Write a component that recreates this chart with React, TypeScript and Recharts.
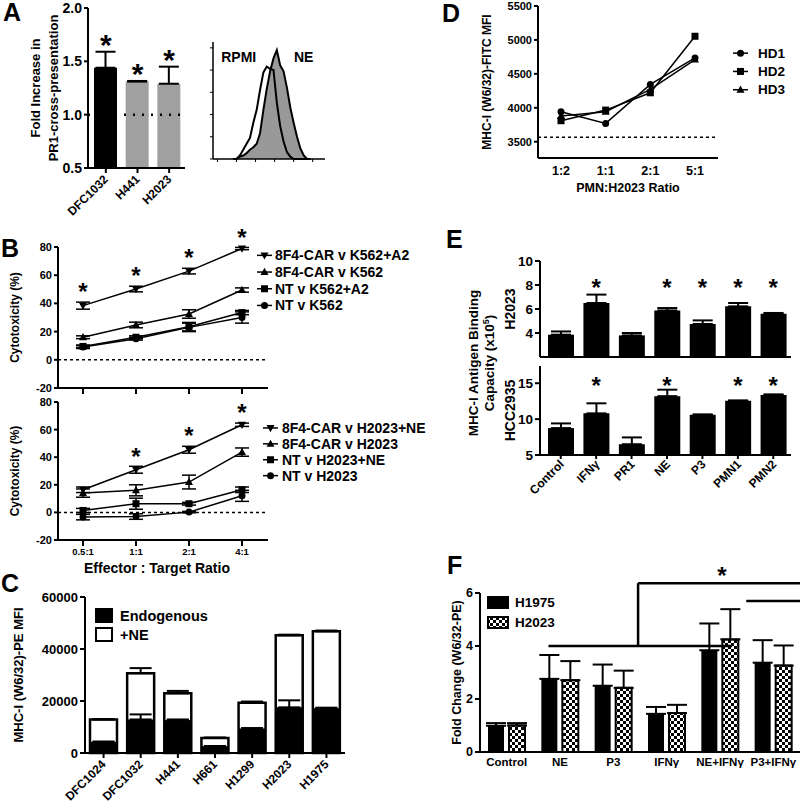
import {
  BarChart, Bar, Cell, LineChart, Line, AreaChart, Area,
  XAxis, YAxis, ErrorBar, ReferenceLine, ReferenceDot,
} from 'recharts'

const FONT = '"Liberation Sans", Arial, Helvetica, sans-serif'

// ---- A: PR1 cross-presentation
const aCells = ['DFC1032', 'H441', 'H2023']
const aFold = [1.44, 1.31, 1.29]
const aFoldErr = [0.15, 0.006, 0.16]

// ---- A: flow histogram (% of mode)
const histBins = [18, 21, 24, 27, 30, 33, 36, 39, 42, 45, 48, 51, 54, 57, 60, 63, 66, 69, 72, 75, 78, 81, 84, 87]
const histRPMI = [0, 0, 3, 8, 13, 18, 31, 42, 59, 74, 79, 77, 76, 48, 28, 15, 6, 2, 0, 0, 0, 0, 0, 0]
const histNE = [0, 0, 2, 3, 5, 8, 10, 13, 22, 42, 60, 75, 86, 93, 80, 75, 61, 44, 31, 19, 9, 3, 0, 0]

// ---- B: cytotoxicity
const ratiosB = ['0.5:1', '1:1', '2:1', '4:1']
const k562CarA2 = [38.4, 50.2, 62.9, 78.9]
const k562CarA2Err = [2.5, 2, 2, 0.8]
const k562Car = [16, 24.7, 32.5, 49.5]
const k562CarErr = [1, 2, 3, 1.5]
const k562NtA2 = [9.5, 16, 23.5, 33.5]
const k562NtA2Err = [1, 1, 3, 1.5]
const k562Nt = [9, 15, 23, 30]
const k562NtErr = [1, 1, 3, 4]
const h2023CarNE = [16.4, 30.9, 45.4, 63.5]
const h2023CarNEErr = [2, 2.5, 2.5, 1.2]
const h2023Car = [14, 16, 22, 43.7]
const h2023CarErr = [3, 4, 5, 3]
const h2023NtNE = [1.4, 6.3, 6.3, 16.4]
const h2023NtNEErr = [1.5, 4, 1, 2]
const h2023Nt = [-3.4, -3, 0.2, 12]
const h2023NtErr = [2, 2, 0.5, 4]
const bTopStars = ['0.5:1', '1:1', '2:1', '4:1']
const bBotStars = ['1:1', '2:1', '4:1']

// ---- C: MHC-I MFI
const cCells = ['DFC1024', 'DFC1032', 'H441', 'H661', 'H1299', 'H2023', 'H1975']
const cEndo = [4260, 12900, 12650, 2600, 9440, 17560, 17180]
const cEndoErr = [150, 1950, 250, 100, 150, 2700, 250]
const cNE = [12920, 30700, 22980, 5800, 19340, 45270, 46800]
const cNEErr = [100, 1950, 900, 150, 450, 250, 300]

// ---- D: PMN co-culture
const ratiosD = ['1:2', '1:1', '2:1', '5:1']
const hd1 = [3941, 3770, 4344, 4735]
const hd2 = [3809, 3966, 4221, 5054]
const hd3 = [3878, 3941, 4270, 4710]
const dUntreated = 3565

// ---- E: antigen binding capacity (x10^5)
const eTreat = ['Control', 'IFNγ', 'PR1', 'NE', 'P3', 'PMN1', 'PMN2']
const eH2023 = [3.86, 6.5, 3.8, 5.88, 4.75, 6.22, 5.6]
const eH2023Err = [0.27, 0.7, 0.2, 0.2, 0.3, 0.28, 0.07]
const eHCC = [8.75, 10.8, 6.5, 13.2, 10.6, 12.55, 13.35]
const eHCCErr = [0.65, 1.4, 0.95, 0.9, 0.05, 0.05, 0.1]
const eStarsH2023 = ['IFNγ', 'NE', 'P3', 'PMN1', 'PMN2']
const eStarsHCC = ['IFNγ', 'NE', 'PMN1', 'PMN2']

// ---- F: fold change
const fGroups = ['Control', 'NE', 'P3', 'IFNγ', 'NE+IFNγ', 'P3+IFNγ']
const fH1975 = [0.99, 2.76, 2.5, 1.44, 3.84, 3.37]
const fH1975Err = [0.1, 0.9, 0.8, 0.26, 1.01, 0.85]
const fH2023 = [1.0, 2.71, 2.42, 1.47, 4.25, 3.26]
const fH2023Err = [0.09, 0.72, 0.65, 0.31, 1.14, 0.76]
// bracket segments, x in band units (0..6), y in fold change
const fBrackets = [
  [[1.07, 4.0], [3.94, 4.0]],
  [[4.16, 5.7], [5.91, 5.7]],
  [[2.47, 4.0], [2.47, 6.37]],
  [[2.47, 6.37], [5.08, 6.37]],
  [[5.08, 6.37], [5.08, 5.7]],
]
const fStar = [3.78, 6.37]

const aRows = aCells.map((cell, i) => ({ cell, fold: aFold[i], err: [0, aFoldErr[i]] }))
const histRows = histBins.map((bin, i) => ({ bin, rpmi: histRPMI[i], ne: histNE[i] }))
const bTopRows = ratiosB.map((r, i) => ({
  r, s1: k562CarA2[i], e1: k562CarA2Err[i], s2: k562Car[i], e2: k562CarErr[i],
  s3: k562NtA2[i], e3: k562NtA2Err[i], s4: k562Nt[i], e4: k562NtErr[i],
}))
const bBotRows = ratiosB.map((r, i) => ({
  r, s1: h2023CarNE[i], e1: h2023CarNEErr[i], s2: h2023Car[i], e2: h2023CarErr[i],
  s3: h2023NtNE[i], e3: h2023NtNEErr[i], s4: h2023Nt[i], e4: h2023NtErr[i],
}))
const cRows = cCells.map((cell, i) => ({
  cell, endo: cEndo[i], endoE: [0, cEndoErr[i]], ne: cNE[i], neE: [0, cNEErr[i]],
}))
const dRows = ratiosD.map((r, i) => ({ r, hd1: hd1[i], hd2: hd2[i], hd3: hd3[i] }))
const eRows = eTreat.map((t, i) => ({
  t, a: eH2023[i], aE: [0, eH2023Err[i]], b: eHCC[i], bE: [0, eHCCErr[i]],
}))
const fRows = fGroups.map((g, i) => ({
  g, h1975: fH1975[i], h1975E: [0, fH1975Err[i]], h2023: fH2023[i], h2023E: [0, fH2023Err[i]],
}))

const AXIS = { stroke: '#000', strokeWidth: 2 }
const tickFont = (size: number) => ({ fill: '#000', fontSize: size, fontWeight: 700, fontFamily: FONT })

function VTitle({ viewBox, lines, cx, size = 12, gap = 15, cy }: any) {
  const x = viewBox.x + cx
  const y = cy ?? viewBox.y + viewBox.height / 2
  const first = size * 0.35 - ((lines.length - 1) * gap) / 2
  return (
    <text x={x} y={y} transform={`rotate(-90 ${x} ${y})`} textAnchor="middle"
      fontSize={size} fontWeight={700} fontFamily={FONT} fill="#000">
      {lines.map((l: string, i: number) => (
        <tspan key={i} x={x} dy={i === 0 ? first : gap}>{l}</tspan>
      ))}
    </text>
  )
}

function HTitle({ viewBox, value, dy, dx = 0, size = 13 }: any) {
  return (
    <text x={viewBox.x + viewBox.width / 2 + dx} y={viewBox.y + dy} textAnchor="middle"
      fontSize={size} fontWeight={700} fontFamily={FONT} fill="#000">{value}</text>
  )
}

function SlantTick({ x, y, payload, size = 12, dx = 3, dy = 6 }: any) {
  const tx = x + dx
  const ty = y + dy
  return (
    <text x={tx} y={ty} transform={`rotate(-45 ${tx} ${ty})`} textAnchor="end"
      fontSize={size} fontWeight={700} fontFamily={FONT} fill="#000">{payload.value}</text>
  )
}

const starShape = (gap: number, size: number) => (p: any) => (
  <text x={p.cx} y={p.cy - gap + size * 0.55} textAnchor="middle" fontSize={size}
    fontWeight={700} fontFamily={FONT} fill="#000">*</text>
)

const textShape = (label: string, size: number) => (p: any) => (
  <text x={p.cx} y={p.cy} dy="0.35em" textAnchor="middle" fontSize={size}
    fontWeight={700} fontFamily={FONT} fill="#000">{label}</text>
)

function Marker({ cx, cy, kind, s = 3.5 }: any) {
  if (cx == null || cy == null) return null
  if (kind === 'circle') return <circle cx={cx} cy={cy} r={s} fill="#000" />
  if (kind === 'square') return <rect x={cx - s} y={cy - s} width={2 * s} height={2 * s} fill="#000" />
  if (kind === 'tri') {
    return <polygon points={`${cx},${cy - s * 1.2} ${cx - s * 1.15},${cy + s * 0.85} ${cx + s * 1.15},${cy + s * 0.85}`} fill="#000" />
  }
  return <polygon points={`${cx},${cy + s * 1.2} ${cx - s * 1.15},${cy - s * 0.85} ${cx + s * 1.15},${cy - s * 0.85}`} fill="#000" />
}

const markerDot = (kind: string) => (p: any) => <Marker key={p.index} cx={p.cx} cy={p.cy} kind={kind} />

function LineLegend({ items, left, top, gap, textX, size }: any) {
  return (
    <svg style={{ position: 'absolute', left, top, overflow: 'visible' }} width={160} height={items.length * gap}>
      {items.map((it: any, i: number) => {
        const y = gap * i + gap / 2
        return (
          <g key={it.label}>
            <line x1={0} x2={15} y1={y} y2={y} stroke="#000" strokeWidth={1.5} />
            <Marker cx={7.5} cy={y} kind={it.kind} />
            <text x={textX} y={y} dy="0.35em" fontSize={size} fontWeight={700} fontFamily={FONT}>{it.label}</text>
          </g>
        )
      })}
    </svg>
  )
}

function SwatchLegend({ items, left, top, gap, w, h, textX, size }: any) {
  return (
    <svg style={{ position: 'absolute', left, top, overflow: 'visible' }} width={130} height={items.length * gap}>
      <defs>
        <pattern id="chkLegend" width="6" height="6" patternUnits="userSpaceOnUse">
          <rect width="6" height="6" fill="#fff" />
          <rect width="3" height="3" fill="#000" />
          <rect x="3" y="3" width="3" height="3" fill="#000" />
        </pattern>
      </defs>
      {items.map((it: any, i: number) => (
        <g key={it.label}>
          <rect x={1} y={gap * i + 1} width={w} height={h} fill={it.fill} stroke="#000" strokeWidth={2} />
          <text x={textX} y={gap * i + 1 + h / 2} dy="0.35em" fontSize={size} fontWeight={700} fontFamily={FONT}>{it.label}</text>
        </g>
      ))}
    </svg>
  )
}

const seriesB = () => [
  { key: 's1', err: 'e1', kind: 'inv' },
  { key: 's2', err: 'e2', kind: 'tri' },
  { key: 's3', err: 'e3', kind: 'square' },
  { key: 's4', err: 'e4', kind: 'circle' },
].map((s) => (
  <Line key={s.key} dataKey={s.key} stroke="#000" strokeWidth={1.5} type="linear"
    dot={markerDot(s.kind)} isAnimationActive={false}>
    <ErrorBar dataKey={s.err} width={7} strokeWidth={1.5} stroke="#000" />
  </Line>
))

export default function App() {
  return (
    <div style={{ position: 'absolute', left: 0, top: 0, width: 800, height: 802, overflow: 'hidden', background: '#fff', fontFamily: FONT }}>
      {/* A bars */}
      <div style={{ position: 'absolute', left: 20, top: 0 }}>
        <BarChart width={165} height={228} data={aRows} margin={{ top: 8, right: 0, bottom: 0, left: 0 }} barSize={23}>
          <XAxis dataKey="cell" height={60} interval={0} padding={{ left: 2, right: 0 }}
            axisLine={AXIS} tickLine={AXIS} tickSize={5} tick={<SlantTick size={12} dx={3} dy={5} />} />
          <YAxis width={68} domain={[0.5, 2]} ticks={[0.5, 1, 1.5, 2]} tickFormatter={(v: number) => v.toFixed(1)}
            axisLine={AXIS} tickLine={AXIS} tickSize={4} tick={tickFont(14)}
            label={<VTitle lines={['Fold Increase in', 'PR1-cross-presentation']} cx={24} gap={18} size={13} />} />
          <Bar dataKey="fold" isAnimationActive={false}>
            {aRows.map((r, i) => <Cell key={r.cell} fill={i === 0 ? '#000' : '#a0a0a0'} />)}
            <ErrorBar dataKey="err" width={10} strokeWidth={2} stroke="#000" />
          </Bar>
          <ReferenceLine y={1} stroke="#000" strokeWidth={2.5} strokeDasharray="2 7" />
          {aCells.map((c, i) => (
            <ReferenceDot key={c} x={c} y={aFold[i] + aFoldErr[i]} ifOverflow="visible" shape={starShape(13, 30)} />
          ))}
        </BarChart>
      </div>

      {/* A histogram */}
      <div style={{ position: 'absolute', left: 200, top: 30 }}>
        <AreaChart width={125} height={139} data={histRows} margin={{ top: 12, right: 0, bottom: 0, left: 0 }}>
          <XAxis dataKey="bin" type="number" domain={[0, 100]} ticks={[4, 21, 38, 55, 72, 89]} height={10}
            axisLine={{ stroke: '#000', strokeWidth: 1.5 }} tickLine={{ stroke: '#000' }} tickSize={3} tickFormatter={() => ''} />
          <XAxis xAxisId="top" orientation="top" dataKey="bin" type="number" domain={[0, 100]} height={0}
            axisLine={{ stroke: '#bbb', strokeWidth: 1 }} tick={false} tickLine={false} />
          <YAxis width={13} domain={[0, 100]} ticks={[0, 19, 38, 57, 76, 95]}
            axisLine={{ stroke: '#000', strokeWidth: 1.5 }} tickLine={{ stroke: '#000' }} tickSize={3} tickFormatter={() => ''} />
          <YAxis yAxisId="r" orientation="right" width={0} domain={[0, 100]}
            axisLine={{ stroke: '#bbb', strokeWidth: 1 }} tick={false} tickLine={false} />
          <Area dataKey="ne" type="linear" fill="#999" fillOpacity={1} stroke="#000" strokeWidth={2} isAnimationActive={false} />
          <Area dataKey="rpmi" type="linear" fill="none" stroke="#000" strokeWidth={2} isAnimationActive={false} />
          <ReferenceDot x={23} y={87} shape={textShape('RPMI', 14)} />
          <ReferenceDot x={81} y={87} shape={textShape('NE', 14)} />
        </AreaChart>
      </div>

      {/* B top */}
      <div style={{ position: 'absolute', left: 0, top: 222 }}>
        <LineChart width={268} height={174} data={bTopRows} margin={{ top: 25, right: 0, bottom: 0, left: 0 }}>
          <XAxis dataKey="r" height={8} padding={{ left: 25, right: 26 }} axisLine={AXIS} tickLine={AXIS} tickSize={6} tickFormatter={() => ''} />
          <YAxis width={58} domain={[-20, 80]} ticks={[-20, 0, 20, 40, 60, 80]} axisLine={AXIS} tickLine={AXIS} tickSize={4}
            tick={tickFont(11)} label={<VTitle lines={['Cytotoxicity (%)']} cx={15} size={12} />} />
          <ReferenceLine y={0} stroke="#000" strokeWidth={1.5} strokeDasharray="3 3" />
          {seriesB()}
          {bTopStars.map((r) => {
            const i = ratiosB.indexOf(r)
            return <ReferenceDot key={r} x={r} y={k562CarA2[i] + k562CarA2Err[i]} ifOverflow="visible" shape={starShape(15, 24)} />
          })}
        </LineChart>
      </div>
      <LineLegend left={257} top={247} gap={16.7} textX={18} size={14} items={[
        { label: '8F4-CAR v K562+A2', kind: 'inv' },
        { label: '8F4-CAR v K562', kind: 'tri' },
        { label: 'NT v K562+A2', kind: 'square' },
        { label: 'NT v K562', kind: 'circle' },
      ]} />

      {/* B bottom */}
      <div style={{ position: 'absolute', left: 0, top: 390 }}>
        <LineChart width={268} height={190} data={bBotRows} margin={{ top: 12, right: 0, bottom: 0, left: 0 }}>
          <XAxis dataKey="r" height={40} padding={{ left: 25, right: 26 }} axisLine={AXIS} tickLine={AXIS} tickSize={6}
            tick={tickFont(9.5)} label={<HTitle value="Effector : Target Ratio" dy={33} dx={-6} size={14} />} />
          <YAxis width={58} domain={[-20, 80]} ticks={[-20, 0, 20, 40, 60, 80]} axisLine={AXIS} tickLine={AXIS} tickSize={4}
            tick={tickFont(11)} label={<VTitle lines={['Cytotoxicity (%)']} cx={15} size={12} />} />
          <ReferenceLine y={0} stroke="#000" strokeWidth={1.5} strokeDasharray="3 3" />
          {seriesB()}
          {bBotStars.map((r) => {
            const i = ratiosB.indexOf(r)
            return <ReferenceDot key={r} x={r} y={h2023CarNE[i] + h2023CarNEErr[i]} ifOverflow="visible" shape={starShape(15, 24)} />
          })}
        </LineChart>
      </div>
      <LineLegend left={263} top={420} gap={15.9} textX={19} size={14} items={[
        { label: '8F4-CAR v H2023+NE', kind: 'inv' },
        { label: '8F4-CAR v H2023', kind: 'tri' },
        { label: 'NT v H2023+NE', kind: 'square' },
        { label: 'NT v H2023', kind: 'circle' },
      ]} />

      {/* C */}
      <div style={{ position: 'absolute', left: 0, top: 585 }}>
        <BarChart width={345} height={217} data={cRows} margin={{ top: 12, right: 0, bottom: 0, left: 0 }} barSize={27}>
          <XAxis xAxisId="a" dataKey="cell" height={49} interval={0} axisLine={AXIS} tickLine={AXIS} tickSize={5}
            tick={<SlantTick size={12} dx={3} dy={5} />} />
          <XAxis xAxisId="b" dataKey="cell" hide />
          <YAxis width={85} domain={[0, 60000]} ticks={[0, 20000, 40000, 60000]} axisLine={AXIS} tickLine={AXIS} tickSize={5}
            tick={tickFont(13)} label={<VTitle lines={['MHC-I (W6/32)-PE MFI']} cx={18} size={13} />} />
          <Bar xAxisId="b" dataKey="ne" fill="#fff" stroke="#000" strokeWidth={2.5} isAnimationActive={false}>
            <ErrorBar dataKey="neE" width={11} strokeWidth={2} stroke="#000" />
          </Bar>
          <Bar xAxisId="a" dataKey="endo" fill="#000" isAnimationActive={false}>
            <ErrorBar dataKey="endoE" width={11} strokeWidth={2} stroke="#000" />
          </Bar>
        </BarChart>
      </div>
      <SwatchLegend left={95} top={608} gap={19} w={16} h={13} textX={25} size={14.5} items={[
        { label: 'Endogenous', fill: '#000' },
        { label: '+NE', fill: '#fff' },
      ]} />

      {/* D */}
      <div style={{ position: 'absolute', left: 440, top: 0 }}>
        <LineChart width={278} height={198} data={dRows} margin={{ top: 6, right: 0, bottom: 0, left: 0 }}>
          <XAxis dataKey="r" height={40} padding={{ left: 23, right: 23 }} axisLine={AXIS} tickLine={false} tickSize={6}
            tick={tickFont(12.5)} label={<HTitle value="PMN:H2023 Ratio" dy={34} size={12.5} />} />
          <YAxis width={98} domain={[3260, 5500]} ticks={[3500, 4000, 4500, 5000, 5500]} axisLine={AXIS} tickLine={AXIS} tickSize={4}
            tick={tickFont(11)} label={<VTitle lines={['MHC-I (W6/32)-FITC MFI']} cx={47} size={12} />} />
          <ReferenceLine y={dUntreated} stroke="#000" strokeWidth={1.5} strokeDasharray="3 3" />
          <Line dataKey="hd1" stroke="#000" strokeWidth={1.5} type="linear" dot={markerDot('circle')} isAnimationActive={false} />
          <Line dataKey="hd2" stroke="#000" strokeWidth={1.5} type="linear" dot={markerDot('square')} isAnimationActive={false} />
          <Line dataKey="hd3" stroke="#000" strokeWidth={1.5} type="linear" dot={markerDot('tri')} isAnimationActive={false} />
        </LineChart>
      </div>
      <LineLegend left={733} top={43.5} gap={18.3} textX={25} size={13.5} items={[
        { label: 'HD1', kind: 'circle' },
        { label: 'HD2', kind: 'square' },
        { label: 'HD3', kind: 'tri' },
      ]} />

      {/* E shared title */}
      <svg style={{ position: 'absolute', left: 440, top: 250 }} width={60} height={240}>
        <text x={33} y={113} transform="rotate(-90 33 113)" textAnchor="middle" dy="0.35em" fontSize={13.5} fontWeight={700} fontFamily={FONT}>MHC-I Antigen Binding</text>
        <text x={49} y={113} transform="rotate(-90 49 113)" textAnchor="middle" dy="0.35em" fontSize={13.5} fontWeight={700} fontFamily={FONT}>
          Capacity (x10<tspan dy={-5} fontSize={9}>5</tspan><tspan dy={5}>)</tspan>
        </text>
      </svg>

      {/* E top: H2023 */}
      <div style={{ position: 'absolute', left: 440, top: 250 }}>
        <BarChart width={351} height={108} data={eRows} margin={{ top: 11, right: 0, bottom: 0, left: 0 }} barSize={26}>
          <XAxis dataKey="t" height={1} padding={{ left: 3, right: 0 }} axisLine={AXIS} tick={false} tickLine={false} />
          <XAxis xAxisId="top" orientation="top" dataKey="t" height={0} axisLine={AXIS} tick={false} tickLine={false} />
          <YAxis width={100} domain={[2, 10]} ticks={[2, 4, 6, 8, 10]} axisLine={AXIS} tickLine={AXIS} tickSize={5}
            tick={tickFont(13.5)} label={<VTitle lines={['H2023']} cx={70} size={14} />} />
          <YAxis yAxisId="r" orientation="right" width={0} axisLine={AXIS} tick={false} tickLine={false} />
          <Bar dataKey="a" fill="#000" isAnimationActive={false}>
            <ErrorBar dataKey="aE" width={10} strokeWidth={2} stroke="#000" />
          </Bar>
          {eStarsH2023.map((t) => (
            <ReferenceDot key={t} x={t} y={8.2} ifOverflow="visible" shape={starShape(0, 24)} />
          ))}
        </BarChart>
      </div>

      {/* E bottom: HCC2935 */}
      <div style={{ position: 'absolute', left: 440, top: 355 }}>
        <BarChart width={351} height={150} data={eRows} margin={{ top: 11, right: 0, bottom: 0, left: 0 }} barSize={26}>
          <XAxis dataKey="t" height={50} interval={0} padding={{ left: 3, right: 0 }} axisLine={AXIS} tickLine={AXIS} tickSize={4}
            tick={<SlantTick size={12} dx={4} dy={4} />} />
          <XAxis xAxisId="top" orientation="top" dataKey="t" height={0} axisLine={AXIS} tick={false} tickLine={false} />
          <YAxis width={100} domain={[5, 17.4]} ticks={[5, 10, 15]} axisLine={AXIS} tickLine={AXIS} tickSize={5}
            tick={tickFont(13.5)} label={<VTitle lines={['HCC2935']} cx={70} size={14} />} />
          <YAxis yAxisId="r" orientation="right" width={0} axisLine={AXIS} tick={false} tickLine={false} />
          <Bar dataKey="b" fill="#000" isAnimationActive={false}>
            <ErrorBar dataKey="bE" width={10} strokeWidth={2} stroke="#000" />
          </Bar>
          {eStarsHCC.map((t) => (
            <ReferenceDot key={t} x={t} y={15.4} ifOverflow="visible" shape={starShape(0, 24)} />
          ))}
        </BarChart>
      </div>

      {/* F */}
      <div style={{ position: 'absolute', left: 440, top: 556 }}>
        <BarChart width={360} height={226} data={fRows} margin={{ top: 37, right: 0, bottom: 0, left: 0 }} barSize={16} barGap={5}>
          <defs>
            <pattern id="chk" width="6" height="6" patternUnits="userSpaceOnUse">
              <rect width="6" height="6" fill="#fff" />
              <rect width="3" height="3" fill="#000" />
              <rect x="3" y="3" width="3" height="3" fill="#000" />
            </pattern>
          </defs>
          <XAxis dataKey="g" height={30} interval={0} axisLine={AXIS} tickLine={false} tickSize={4} tick={tickFont(11.5)} />
          <XAxis xAxisId="num" type="number" domain={[0, 6]} hide />
          <YAxis width={40} domain={[0, 6]} ticks={[0, 2, 4, 6]} axisLine={AXIS} tickLine={AXIS} tickSize={5}
            tick={tickFont(12.5)} label={<VTitle lines={['Fold Change (W6/32-PE)']} cx={17} size={12.5} />} />
          <Bar dataKey="h1975" fill="#000" isAnimationActive={false}>
            <ErrorBar dataKey="h1975E" width={10} strokeWidth={2} stroke="#000" />
          </Bar>
          <Bar dataKey="h2023" fill="url(#chk)" stroke="#000" strokeWidth={2} isAnimationActive={false}>
            <ErrorBar dataKey="h2023E" width={10} strokeWidth={2} stroke="#000" />
          </Bar>
          {fBrackets.map((seg, i) => (
            <ReferenceLine key={i} xAxisId="num" ifOverflow="visible" stroke="#000" strokeWidth={2.5}
              segment={[{ x: seg[0][0], y: seg[0][1] }, { x: seg[1][0], y: seg[1][1] }]} />
          ))}
          <ReferenceDot xAxisId="num" x={fStar[0]} y={fStar[1]} ifOverflow="visible" shape={starShape(12, 24)} />
        </BarChart>
      </div>
      <SwatchLegend left={487} top={596} gap={20} w={20} h={11} textX={28} size={13.5} items={[
        { label: 'H1975', fill: '#000' },
        { label: 'H2023', fill: 'url(#chkLegend)' },
      ]} />

      {/* panel letters */}
      <svg style={{ position: 'absolute', left: 0, top: 0, pointerEvents: 'none' }} width={800} height={802}>
        {[['A', 3, 21], ['B', 1, 257], ['C', 1, 592], ['D', 442, 22], ['E', 446, 248], ['F', 447, 574]].map(([l, x, y]) => (
          <text key={l as string} x={x as number} y={y as number} fontSize={25} fontWeight={700} fontFamily={FONT}>{l}</text>
        ))}
      </svg>
    </div>
  )
}
